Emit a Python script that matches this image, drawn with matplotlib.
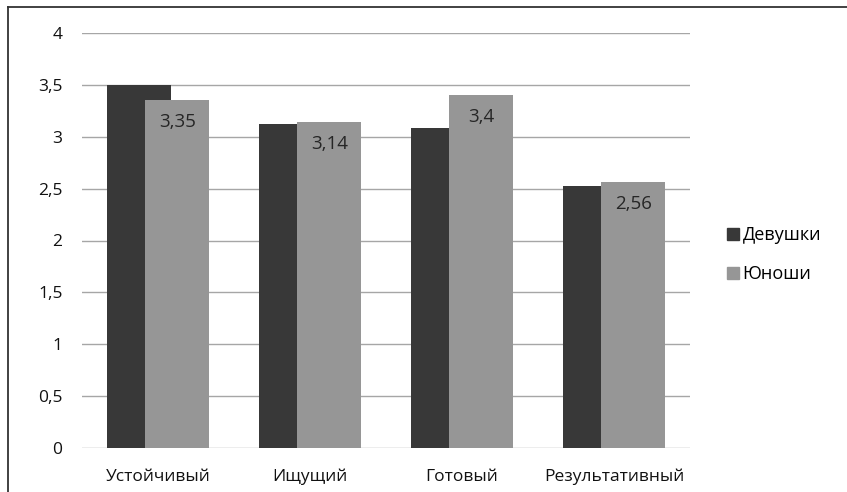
import matplotlib.pyplot as plt
import numpy as np
from matplotlib.lines import Line2D

plt.rcParams['font.family'] = ['Open Sans', 'DejaVu Sans']

categories = ["Устойчивый", "Ищущий", "Готовый", "Результативный"]
girls = [3.5, 3.12, 3.08, 2.53]
boys = [3.35, 3.14, 3.4, 2.56]
boys_labels = ["3,35", "3,14", "3,4", "2,56"]
yticks = [0, 0.5, 1, 1.5, 2, 2.5, 3, 3.5, 4]
ytick_labels = ["0", "0,5", "1", "1,5", "2", "2,5", "3", "3,5", "4"]

dark = "#383838"
light = "#969696"

fig = plt.figure(figsize=(8.47, 4.92), dpi=100)
ax = fig.add_axes([82/847, 1-448/492, (690-82)/847, (448-33)/492])

x = np.arange(len(categories))
w = 0.42
ax.bar(x - 0.127, girls, w, color=dark, label="Девушки", zorder=2)
ax.bar(x + 0.127, boys, w, color=light, label="Юноши", zorder=3)

# подписи значений внутри серых столбцов
for xi, v, t in zip(x, boys, boys_labels):
    ax.text(xi + 0.127, v - 0.21, t, ha="center", va="center",
            fontsize=13.5, color="#262626", zorder=4)

ax.set_xlim(-0.5, 3.5)
ax.set_ylim(0, 4)
ax.set_yticks(yticks)
ax.set_yticklabels(ytick_labels)
ax.set_xticks(x)
ax.set_xticklabels(categories)
ax.tick_params(axis="both", length=0, labelsize=12.5, colors="#111111")
ax.tick_params(axis="y", pad=14)
ax.tick_params(axis="x", pad=15)
ax.yaxis.grid(True, color="#a6a6a6", linewidth=1, zorder=0)
ax.set_axisbelow(True)
for s in ax.spines.values():
    s.set_visible(False)

handles = [Line2D([], [], marker="s", linestyle="none", markersize=8, color=dark),
           Line2D([], [], marker="s", linestyle="none", markersize=8, color=light)]
fig.legend(handles, ["Девушки", "Юноши"], loc="upper left",
           bbox_to_anchor=(711/847, 1-210/492), frameon=False, fontsize=13,
           handlelength=0.6, handletextpad=0.25, labelspacing=1.15)

# рамка (видны только верхняя и левая стороны)
fig.add_artist(Line2D([8/847, 1], [1-6.5/492, 1-6.5/492], color="#333333", linewidth=1.3))
fig.add_artist(Line2D([8/847, 8/847], [0, 1-6.5/492], color="#333333", linewidth=1.3))

fig.savefig("out.png", dpi=100)
